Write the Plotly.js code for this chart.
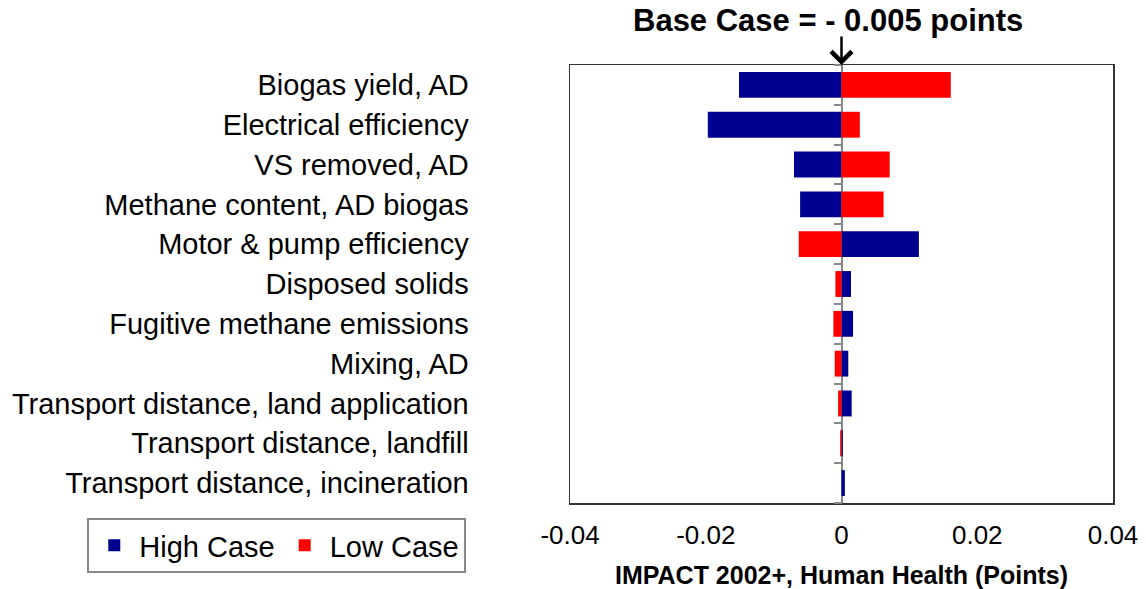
<!DOCTYPE html>
<html>
<head>
<meta charset="utf-8">
<script src="https://cdn.plot.ly/plotly-3.0.1.min.js"></script>
<style>html,body{margin:0;padding:0;background:#fff}#chart{width:1146px;height:589px}</style>
</head>
<body>
<div id="chart"></div>
<script>
const categories = [
  "Biogas yield, AD",
  "Electrical efficiency",
  "VS removed, AD",
  "Methane content, AD biogas",
  "Motor & pump efficiency",
  "Disposed solids",
  "Fugitive methane emissions",
  "Mixing, AD",
  "Transport distance, land application",
  "Transport distance, landfill",
  "Transport distance, incineration"
];
const highCase = [-0.0151, -0.0197, -0.0070, -0.0061, 0.0114, 0.0014, 0.0017, 0.0010, 0.0015, 0.0002, 0.0005];
const lowCase  = [ 0.0161,  0.0027,  0.0071,  0.0062, -0.0063, -0.0009, -0.0012, -0.0010, -0.0005, -0.0002, 0.0];
const xTickVals = [-0.04, -0.02, 0, 0.02, 0.04];
const xTickText = ["-0.04", "-0.02", "0", "0.02", "0.04"];
const boundaryTicks = [-0.5, 0.5, 1.5, 2.5, 3.5, 4.5, 5.5, 6.5, 7.5, 8.5, 9.5, 10.5];

const font = "Liberation Sans, Arial, sans-serif";

const traces = [
  {type: "bar", orientation: "h", name: "High Case", y: categories, x: highCase,
   marker: {color: "#000090"}},
  {type: "bar", orientation: "h", name: "Low Case", y: categories, x: lowCase,
   marker: {color: "#FF0000"}},
  {type: "scatter", mode: "markers", x: [], y: [], xaxis: "x", yaxis: "y2",
   showlegend: false, hoverinfo: "skip"}
];

const layout = {
  width: 1146, height: 589,
  margin: {l: 570, r: 33, t: 65, b: 86},
  paper_bgcolor: "#fff", plot_bgcolor: "#fff",
  font: {family: font, color: "#000"},
  barmode: "overlay",
  bargap: 0.35,
  showlegend: true,
  legend: {orientation: "h", x: -0.889, y: -0.034, xanchor: "left", yanchor: "top",
    font: {size: 29, family: font}, bordercolor: "#888", borderwidth: 2,
    traceorder: "normal", itemwidth: 40},
  xaxis: {range: [-0.04, 0.04], tickvals: xTickVals, ticktext: xTickText,
    showgrid: false, zeroline: true, zerolinecolor: "#888", zerolinewidth: 2,
    showline: true, mirror: true, linecolor: "#333", linewidth: 1.5,
    ticks: "", ticklabelstandoff: 8, tickfont: {size: 26, family: font},
    title: {text: "<b>IMPACT 2002+, Human Health (Points)</b>", font: {size: 25, family: font}, standoff: 18}},
  yaxis: {type: "category", autorange: "reversed", showgrid: false, zeroline: false,
    showline: true, mirror: true, linecolor: "#333", linewidth: 1.5,
    ticks: "", ticklabelstandoff: 94, tickfont: {size: 29, family: font}},
  yaxis2: {overlaying: "y", anchor: "free", position: 0.5, range: [10.5, -0.5],
    showgrid: false, zeroline: false, showline: false,
    tickmode: "array", tickvals: boundaryTicks, ticks: "outside", ticklen: 8,
    tickwidth: 2, tickcolor: "#888", showticklabels: false},
  annotations: [
    {text: "<b>Base Case = - 0.005 points</b>", xref: "paper", yref: "paper",
     x: 0.475, y: 1, yshift: 45, xanchor: "center", yanchor: "middle", showarrow: false,
     font: {size: 31, family: font, color: "#000"}},
    {text: "", xref: "x", yref: "paper", x: 0, y: 1, ax: 0, ay: -30,
     showarrow: true, arrowhead: 4, arrowsize: 1.6, arrowwidth: 2.5, arrowcolor: "#000"}
  ]
};

Plotly.newPlot("chart", traces, layout, {displayModeBar: false, staticPlot: true});
</script>
</body>
</html>
